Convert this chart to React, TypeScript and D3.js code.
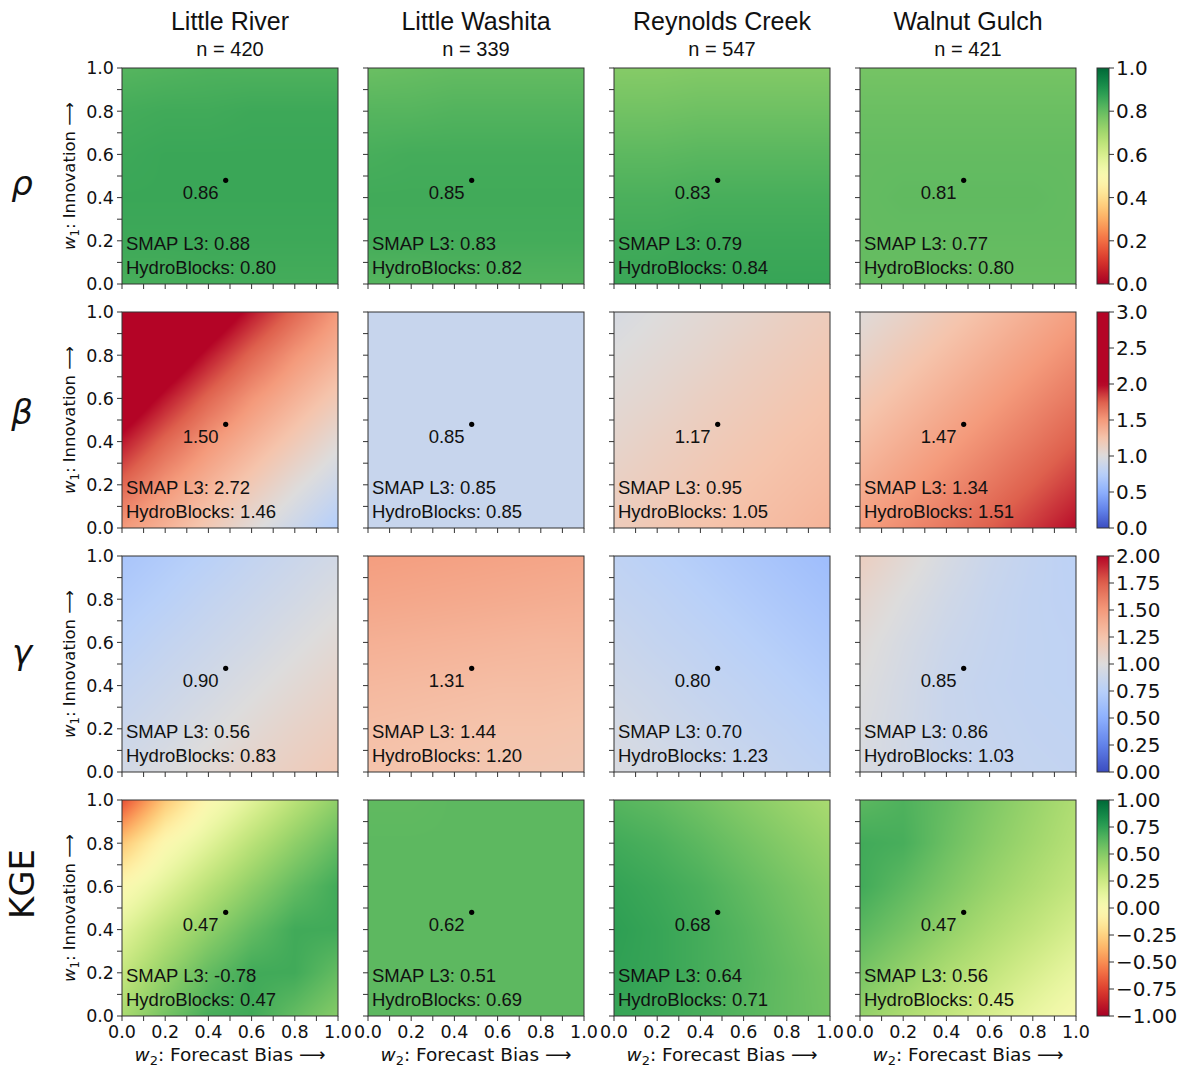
import React, { useMemo } from 'react';
import * as d3 from 'd3';

const sites = ['Little River', 'Little Washita', 'Reynolds Creek', 'Walnut Gulch'];
const siteN = [420, 339, 547, 421];
const metricLabels = ['ρ', 'β', 'γ', 'KGE'];

// grid nodes in weight space (rows go top -> bottom)
const gridW2 = [0, 0.2, 0.4, 0.6, 0.8, 1.0];
const gridW1 = [1.0, 0.8, 0.6, 0.4, 0.2, 0];

// rho
const rhoLittleRiver = [
  [0.82, 0.825, 0.83, 0.83, 0.83, 0.83],
  [0.845, 0.85, 0.85, 0.855, 0.855, 0.855],
  [0.855, 0.86, 0.86, 0.86, 0.86, 0.86],
  [0.86, 0.86, 0.86, 0.86, 0.86, 0.86],
  [0.855, 0.855, 0.855, 0.855, 0.855, 0.855],
  [0.84, 0.84, 0.845, 0.845, 0.845, 0.845],
];
const rhoLittleWashita = [
  [0.79, 0.795, 0.8, 0.8, 0.8, 0.8],
  [0.82, 0.82, 0.825, 0.825, 0.825, 0.825],
  [0.84, 0.845, 0.845, 0.845, 0.845, 0.845],
  [0.85, 0.85, 0.85, 0.85, 0.85, 0.85],
  [0.845, 0.845, 0.845, 0.845, 0.845, 0.845],
  [0.82, 0.82, 0.825, 0.825, 0.825, 0.825],
];
const rhoReynoldsCreek = [
  [0.75, 0.75, 0.755, 0.755, 0.755, 0.755],
  [0.78, 0.78, 0.785, 0.785, 0.785, 0.785],
  [0.81, 0.81, 0.815, 0.815, 0.815, 0.815],
  [0.835, 0.835, 0.84, 0.84, 0.84, 0.84],
  [0.85, 0.85, 0.855, 0.855, 0.855, 0.855],
  [0.86, 0.86, 0.865, 0.865, 0.865, 0.865],
];
const rhoWalnutGulch = [
  [0.775, 0.775, 0.775, 0.775, 0.775, 0.775],
  [0.79, 0.79, 0.79, 0.79, 0.79, 0.79],
  [0.8, 0.8, 0.8, 0.8, 0.8, 0.8],
  [0.8, 0.805, 0.805, 0.805, 0.805, 0.8],
  [0.8, 0.8, 0.8, 0.8, 0.8, 0.8],
  [0.795, 0.795, 0.795, 0.795, 0.795, 0.795],
];

// beta
const betaLittleRiver = [
  [2.9, 2.5, 2.2, 1.95, 1.72, 1.5],
  [2.5, 2.2, 1.95, 1.72, 1.52, 1.36],
  [2.2, 1.95, 1.72, 1.52, 1.36, 1.2],
  [1.95, 1.72, 1.52, 1.36, 1.2, 1.03],
  [1.72, 1.52, 1.36, 1.2, 1.03, 0.88],
  [1.5, 1.36, 1.2, 1.03, 0.88, 0.72],
];
const betaLittleWashita = [
  [0.85, 0.85, 0.85, 0.85, 0.85, 0.85],
  [0.85, 0.85, 0.85, 0.85, 0.85, 0.85],
  [0.85, 0.85, 0.85, 0.85, 0.85, 0.85],
  [0.85, 0.85, 0.85, 0.85, 0.85, 0.85],
  [0.85, 0.85, 0.85, 0.85, 0.85, 0.85],
  [0.85, 0.85, 0.85, 0.85, 0.85, 0.85],
];
const betaReynoldsCreek = [
  [0.95, 1.0, 1.04, 1.08, 1.13, 1.17],
  [1.0, 1.04, 1.08, 1.13, 1.17, 1.21],
  [1.04, 1.08, 1.13, 1.17, 1.21, 1.25],
  [1.08, 1.13, 1.17, 1.21, 1.25, 1.28],
  [1.13, 1.17, 1.21, 1.25, 1.28, 1.31],
  [1.17, 1.21, 1.25, 1.28, 1.31, 1.35],
];
const betaWalnutGulch = [
  [1.02, 1.1, 1.2, 1.29, 1.38, 1.47],
  [1.1, 1.2, 1.29, 1.38, 1.47, 1.56],
  [1.2, 1.29, 1.38, 1.47, 1.56, 1.65],
  [1.29, 1.38, 1.47, 1.56, 1.65, 1.75],
  [1.38, 1.47, 1.56, 1.65, 1.75, 1.86],
  [1.47, 1.56, 1.65, 1.75, 1.86, 1.98],
];

// gamma
const gammaLittleRiver = [
  [0.66, 0.71, 0.76, 0.82, 0.87, 0.92],
  [0.71, 0.76, 0.82, 0.87, 0.92, 0.98],
  [0.76, 0.82, 0.87, 0.92, 0.98, 1.04],
  [0.82, 0.87, 0.92, 0.98, 1.04, 1.1],
  [0.87, 0.92, 0.98, 1.04, 1.1, 1.15],
  [0.92, 0.98, 1.04, 1.1, 1.15, 1.2],
];
const gammaLittleWashita = [
  [1.48, 1.47, 1.46, 1.45, 1.44, 1.43],
  [1.43, 1.42, 1.41, 1.4, 1.39, 1.38],
  [1.37, 1.36, 1.35, 1.34, 1.33, 1.33],
  [1.32, 1.31, 1.3, 1.29, 1.29, 1.28],
  [1.28, 1.27, 1.26, 1.25, 1.25, 1.24],
  [1.25, 1.24, 1.23, 1.22, 1.22, 1.21],
];
const gammaReynoldsCreek = [
  [0.8, 0.76, 0.72, 0.68, 0.64, 0.6],
  [0.83, 0.8, 0.76, 0.72, 0.68, 0.64],
  [0.87, 0.83, 0.8, 0.76, 0.72, 0.68],
  [0.9, 0.87, 0.83, 0.8, 0.76, 0.72],
  [0.94, 0.9, 0.87, 0.83, 0.8, 0.76],
  [0.97, 0.94, 0.9, 0.87, 0.83, 0.8],
];
const gammaWalnutGulch = [
  [1.15, 1.05, 0.95, 0.87, 0.82, 0.78],
  [1.08, 0.99, 0.91, 0.85, 0.81, 0.79],
  [1.03, 0.95, 0.88, 0.84, 0.81, 0.8],
  [1.0, 0.93, 0.86, 0.83, 0.81, 0.8],
  [0.98, 0.92, 0.86, 0.84, 0.82, 0.81],
  [0.97, 0.92, 0.87, 0.85, 0.83, 0.82],
];

// KGE
const kgeLittleRiver = [
  [-0.7, -0.3, -0.02, 0.15, 0.32, 0.47],
  [-0.3, -0.02, 0.15, 0.32, 0.47, 0.6],
  [-0.02, 0.15, 0.32, 0.47, 0.6, 0.7],
  [0.15, 0.32, 0.47, 0.6, 0.7, 0.7],
  [0.28, 0.45, 0.6, 0.7, 0.7, 0.6],
  [0.38, 0.55, 0.68, 0.7, 0.6, 0.5],
];
const kgeLittleWashita = [
  [0.61, 0.61, 0.62, 0.62, 0.62, 0.62],
  [0.62, 0.62, 0.62, 0.62, 0.62, 0.62],
  [0.62, 0.62, 0.62, 0.62, 0.62, 0.62],
  [0.62, 0.62, 0.62, 0.62, 0.62, 0.62],
  [0.62, 0.62, 0.62, 0.62, 0.62, 0.62],
  [0.62, 0.62, 0.62, 0.62, 0.62, 0.62],
];
const kgeReynoldsCreek = [
  [0.64, 0.61, 0.56, 0.5, 0.44, 0.38],
  [0.7, 0.67, 0.62, 0.56, 0.5, 0.44],
  [0.74, 0.71, 0.67, 0.61, 0.55, 0.49],
  [0.76, 0.73, 0.69, 0.64, 0.58, 0.52],
  [0.75, 0.73, 0.69, 0.65, 0.6, 0.55],
  [0.73, 0.71, 0.68, 0.64, 0.6, 0.56],
];
const kgeWalnutGulch = [
  [0.62, 0.66, 0.6, 0.52, 0.44, 0.36],
  [0.7, 0.68, 0.58, 0.49, 0.41, 0.33],
  [0.7, 0.62, 0.53, 0.44, 0.36, 0.28],
  [0.63, 0.55, 0.46, 0.37, 0.29, 0.2],
  [0.55, 0.46, 0.37, 0.29, 0.2, 0.11],
  [0.46, 0.37, 0.29, 0.2, 0.11, 0.02],
];

// annotated values
const rhoOptimal = [0.86, 0.85, 0.83, 0.81];
const rhoSmap = [0.88, 0.83, 0.79, 0.77];
const rhoHydro = [0.8, 0.82, 0.84, 0.8];
const betaOptimal = [1.5, 0.85, 1.17, 1.47];
const betaSmap = [2.72, 0.85, 0.95, 1.34];
const betaHydro = [1.46, 0.85, 1.05, 1.51];
const gammaOptimal = [0.9, 1.31, 0.8, 0.85];
const gammaSmap = [0.56, 1.44, 0.7, 0.86];
const gammaHydro = [0.83, 1.2, 1.23, 1.03];
const kgeOptimal = [0.47, 0.62, 0.68, 0.47];
const kgeSmap = [-0.78, 0.51, 0.64, 0.56];
const kgeHydro = [0.47, 0.69, 0.71, 0.45];

// optimal weights (w2, w1) per site
const optW2 = [0.48, 0.48, 0.48, 0.48];
const optW1 = [0.48, 0.48, 0.48, 0.48];

const axisTicks = [0, 0.2, 0.4, 0.6, 0.8, 1.0];
const minorTicks = [0.1, 0.3, 0.5, 0.7, 0.9];

const cbDomains = [[0, 1], [0, 3], [0, 2], [-1, 1]];
const cbTicks = [
  [0, 0.2, 0.4, 0.6, 0.8, 1.0],
  [0, 0.5, 1.0, 1.5, 2.0, 2.5, 3.0],
  [0, 0.25, 0.5, 0.75, 1.0, 1.25, 1.5, 1.75, 2.0],
  [-1, -0.75, -0.5, -0.25, 0, 0.25, 0.5, 0.75, 1.0],
];
const cbFormats = ['.1f', '.1f', '.2f', '.2f'];

const coolwarm = d3.piecewise(d3.interpolateRgb, [
  '#3b4cc0', '#6282ea', '#8db0fe', '#b8d0f9', '#dddcdc',
  '#f5c4ac', '#f49a7b', '#de604d', '#b40426',
]);

const colorScales = [
  d3.scaleSequential(d3.interpolateRdYlGn).domain([0, 1]).clamp(true),
  d3.scaleSequential(coolwarm).domain([0, 2]).clamp(true),
  d3.scaleSequential(coolwarm).domain([0, 2]).clamp(true),
  d3.scaleSequential(d3.interpolateRdYlGn).domain([-1, 1]).clamp(true),
];

const grids = [
  [rhoLittleRiver, rhoLittleWashita, rhoReynoldsCreek, rhoWalnutGulch],
  [betaLittleRiver, betaLittleWashita, betaReynoldsCreek, betaWalnutGulch],
  [gammaLittleRiver, gammaLittleWashita, gammaReynoldsCreek, gammaWalnutGulch],
  [kgeLittleRiver, kgeLittleWashita, kgeReynoldsCreek, kgeWalnutGulch],
];
const optimal = [rhoOptimal, betaOptimal, gammaOptimal, kgeOptimal];
const smap = [rhoSmap, betaSmap, gammaSmap, kgeSmap];
const hydro = [rhoHydro, betaHydro, gammaHydro, kgeHydro];

const W = 1190;
const H = 1068;
const size = 216;
const left0 = 122;
const stepX = 246;
const top0 = 68;
const stepY = 244;
const cbX = 1097;
const cbW = 12;

const tickFont = 'DejaVu Sans, sans-serif';
const textFont = 'Liberation Sans, Arial, sans-serif';
const frame = '#333';

// render the grid like imshow(interpolation='bilinear')
function gridImage(grid, color) {
  const canvas = document.createElement('canvas');
  canvas.width = size;
  canvas.height = size;
  const ctx = canvas.getContext('2d');
  const img = ctx.createImageData(size, size);
  const colIdx = d3.scaleLinear().domain([gridW2[0], gridW2[gridW2.length - 1]]).range([0, gridW2.length - 1]);
  const rowIdx = d3.scaleLinear().domain([gridW1[0], gridW1[gridW1.length - 1]]).range([0, gridW1.length - 1]);
  for (let j = 0; j < size; j++) {
    const fr = rowIdx(1 - (j + 0.5) / size);
    const r0 = Math.min(Math.floor(fr), gridW1.length - 2);
    const tr = fr - r0;
    for (let i = 0; i < size; i++) {
      const fc = colIdx((i + 0.5) / size);
      const c0 = Math.min(Math.floor(fc), gridW2.length - 2);
      const tc = fc - c0;
      const top = grid[r0][c0] * (1 - tc) + grid[r0][c0 + 1] * tc;
      const bot = grid[r0 + 1][c0] * (1 - tc) + grid[r0 + 1][c0 + 1] * tc;
      const v = top * (1 - tr) + bot * tr;
      const c = d3.rgb(color(v));
      const k = (j * size + i) * 4;
      img.data[k] = c.r;
      img.data[k + 1] = c.g;
      img.data[k + 2] = c.b;
      img.data[k + 3] = 255;
    }
  }
  ctx.putImageData(img, 0, 0);
  return canvas.toDataURL();
}

function Panel({ row, col }) {
  const x0 = left0 + col * stepX;
  const y0 = top0 + row * stepY;
  const x = d3.scaleLinear().domain([0, 1]).range([x0, x0 + size]);
  const y = d3.scaleLinear().domain([0, 1]).range([y0 + size, y0]);
  const color = colorScales[row];
  const href = useMemo(() => gridImage(grids[row][col], color), [row, col]);
  const fmt = d3.format('.2f');
  const px = x(optW2[col]);
  const py = y(optW1[col]);
  const allTicks = [...axisTicks, ...minorTicks];

  return (
    <g>
      <image
        href={href}
        x={x(0)}
        y={y(1)}
        width={x(1) - x(0)}
        height={y(0) - y(1)}
        preserveAspectRatio="none"
      />
      <rect x={x(0)} y={y(1)} width={size} height={size} fill="none" stroke={frame} strokeWidth={1} />
      {allTicks.map((t) => (
        <line key={'y' + t} x1={x(0) - 5} x2={x(0)} y1={y(t)} y2={y(t)} stroke={frame} />
      ))}
      {allTicks.map((t) => (
        <line key={'x' + t} x1={x(t)} x2={x(t)} y1={y(0)} y2={y(0) + 5} stroke={frame} />
      ))}
      {col === 0 &&
        axisTicks.map((t) => (
          <text key={'yl' + t} x={x(0) - 8} y={y(t)} dy="0.36em" textAnchor="end"
            fontFamily={tickFont} fontSize={17.5} fill="#111">
            {d3.format('.1f')(t)}
          </text>
        ))}
      {row === 3 &&
        axisTicks.map((t) => (
          <text key={'xl' + t} x={x(t)} y={y(0) + 22} textAnchor="middle"
            fontFamily={tickFont} fontSize={17.5} fill="#111">
            {d3.format('.1f')(t)}
          </text>
        ))}
      <circle cx={px} cy={py} r={2.6} fill="#000" />
      <text x={px - 7} y={py + 19} textAnchor="end" fontFamily={textFont} fontSize={18.5} fill="#111">
        {fmt(optimal[row][col])}
      </text>
      <text x={x(0) + 4} y={y(0) - 34} fontFamily={textFont} fontSize={18.5} fill="#111">
        {'SMAP L3: ' + fmt(smap[row][col]).replace('−', '-')}
      </text>
      <text x={x(0) + 4} y={y(0) - 10} fontFamily={textFont} fontSize={18.5} fill="#111">
        {'HydroBlocks: ' + fmt(hydro[row][col])}
      </text>
    </g>
  );
}

function Colorbar({ row }) {
  const y0 = top0 + row * stepY;
  const [lo, hi] = cbDomains[row];
  const y = d3.scaleLinear().domain([lo, hi]).range([y0 + size, y0]);
  const color = colorScales[row];
  const id = 'cb' + row;
  const stops = d3.range(0, 1.0001, 0.02);
  return (
    <g>
      <defs>
        <linearGradient id={id} x1="0" y1="1" x2="0" y2="0">
          {stops.map((s) => (
            <stop key={s} offset={s} stopColor={color(lo + s * (hi - lo))} />
          ))}
        </linearGradient>
      </defs>
      <rect x={cbX} y={y0} width={cbW} height={size} fill={`url(#${id})`} stroke={frame} strokeWidth={1} />
      {cbTicks[row].map((t) => (
        <g key={t}>
          <line x1={cbX + cbW} x2={cbX + cbW + 5} y1={y(t)} y2={y(t)} stroke={frame} />
          <text x={cbX + cbW + 7} y={y(t)} dy="0.36em" fontFamily={tickFont} fontSize={20} fill="#111">
            {d3.format(cbFormats[row])(t)}
          </text>
        </g>
      ))}
    </g>
  );
}

export default function App() {
  const rowLabelY = [183, 412, 652, 884];
  return (
    <svg width={W} height={H} style={{ position: 'absolute', left: 0, top: 0, background: '#fff' }}>
      <rect width={W} height={H} fill="#fff" />
      {sites.map((s, c) => {
        const cx = left0 + c * stepX + size / 2;
        return (
          <g key={s}>
            <text x={cx} y={30} textAnchor="middle" fontFamily={textFont} fontSize={25} fill="#111">{s}</text>
            <text x={cx} y={56} textAnchor="middle" fontFamily={textFont} fontSize={20} fill="#111">{'n = ' + siteN[c]}</text>
            <text x={cx} y={1061} textAnchor="middle" fontFamily={tickFont} fontSize={18.5} fill="#111">
              <tspan fontStyle="italic">w</tspan>
              <tspan fontSize={13} dy={4}>2</tspan>
              <tspan dy={-4}>: Forecast Bias ⟶</tspan>
            </text>
          </g>
        );
      })}
      {metricLabels.map((m, r) => {
        const cy = top0 + r * stepY + size / 2;
        return (
          <g key={m}>
            <text transform={`translate(75,${cy}) rotate(-90)`} textAnchor="middle"
              fontFamily={tickFont} fontSize={16.5} fill="#111">
              <tspan fontStyle="italic">w</tspan>
              <tspan fontSize={11.5} dy={4}>1</tspan>
              <tspan dy={-4}>: Innovation ⟶</tspan>
            </text>
            {r < 3 ? (
              <text x={22} y={rowLabelY[r]} dy="0.35em" textAnchor="middle" fontFamily={tickFont}
                fontStyle="italic" fontSize={34} fill="#111">{m}</text>
            ) : (
              <text transform={`translate(22,${rowLabelY[r]}) rotate(-90)`} dy="0.36em" textAnchor="middle"
                fontFamily={tickFont} fontSize={34} fill="#111">{m}</text>
            )}
          </g>
        );
      })}
      {[0, 1, 2, 3].map((r) =>
        [0, 1, 2, 3].map((c) => <Panel key={r + '-' + c} row={r} col={c} />)
      )}
      {[0, 1, 2, 3].map((r) => <Colorbar key={r} row={r} />)}
    </svg>
  );
}
